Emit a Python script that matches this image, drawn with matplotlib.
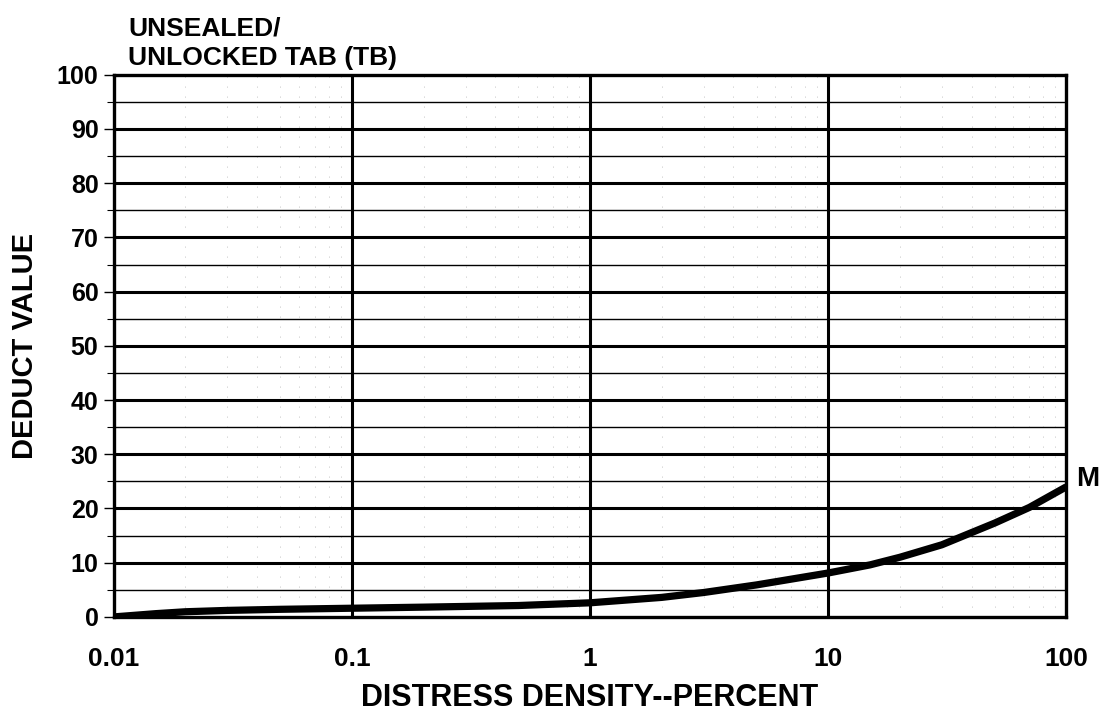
import matplotlib
matplotlib.use("Agg")
import matplotlib.pyplot as plt
from matplotlib.ticker import FixedLocator, NullFormatter

# Deduct curve for unsealed / unlocked tab (TB), medium severity
density = [0.01, 0.015, 0.02, 0.03, 0.05, 0.1, 0.2, 0.5, 1, 2, 3, 5, 10, 15, 20, 30, 50, 70, 100]
deduct = [0.0, 0.6, 0.95, 1.2, 1.4, 1.6, 1.8, 2.1, 2.6, 3.6, 4.5, 5.9, 8.1, 9.6, 11.0, 13.3, 17.3, 20.2, 24.0]

x_ticks = [0.01, 0.1, 1, 10, 100]
x_tick_labels = ["0.01", "0.1", "1", "10", "100"]
y_ticks = list(range(0, 101, 10))
y_minor = list(range(5, 100, 10))
curve_label = "M"

plt.rcParams["font.family"] = ["Liberation Sans", "DejaVu Sans"]
plt.rcParams["font.weight"] = "bold"

fig = plt.figure(figsize=(11.05, 7.19), dpi=100)
ax = fig.add_axes([0.103, 0.142, 0.862, 0.754])

ax.set_xscale("log")
ax.set_xlim(0.01, 100)
ax.set_ylim(0, 100)

# grid: heavy lines at decades and every 10, light lines at 5s
for yv in y_ticks[1:-1]:
    ax.axhline(yv, color="black", lw=2.2, zorder=1)
for yv in y_minor:
    ax.axhline(yv, color="black", lw=1.0, zorder=1)
for xv in x_ticks[1:-1]:
    ax.axvline(xv, color="black", lw=2.2, zorder=1)
for dec in [0.01, 0.1, 1, 10]:
    for m in range(2, 10):
        ax.axvline(dec * m, color="#b0b0b0", lw=0.6, ls=(0, (1, 11)), zorder=0)

ax.plot(density, deduct, color="black", lw=5.2, solid_capstyle="butt", zorder=3)
ax.text(1.010, deduct[-1] + 1.5, curve_label, transform=ax.get_yaxis_transform(),
        fontsize=20, fontweight="bold", va="center", ha="left")

for s in ax.spines.values():
    s.set_linewidth(2.4)

ax.xaxis.set_major_locator(FixedLocator(x_ticks))
ax.set_xticklabels(x_tick_labels)
ax.xaxis.set_minor_formatter(NullFormatter())
ax.tick_params(axis="x", which="both", length=0, pad=22, labelsize=19)
ax.set_yticks(y_ticks)
ax.set_yticks(y_minor, minor=True)
ax.tick_params(axis="y", which="major", length=7, width=1.0, pad=4, labelsize=18)
ax.tick_params(axis="y", which="minor", length=5, width=0.8)
for lbl in ax.get_xticklabels() + ax.get_yticklabels():
    lbl.set_fontweight("bold")

ax.set_ylabel("DEDUCT VALUE", fontsize=21, fontweight="bold", labelpad=13)
ax.set_xlabel("DISTRESS DENSITY--PERCENT", fontsize=22, fontweight="bold", labelpad=8)

fig.text(0.116, 0.903, "UNSEALED/\nUNLOCKED TAB (TB)", fontsize=19, fontweight="bold",
         ha="left", va="bottom", linespacing=1.3)

fig.savefig("out.png", dpi=100)
